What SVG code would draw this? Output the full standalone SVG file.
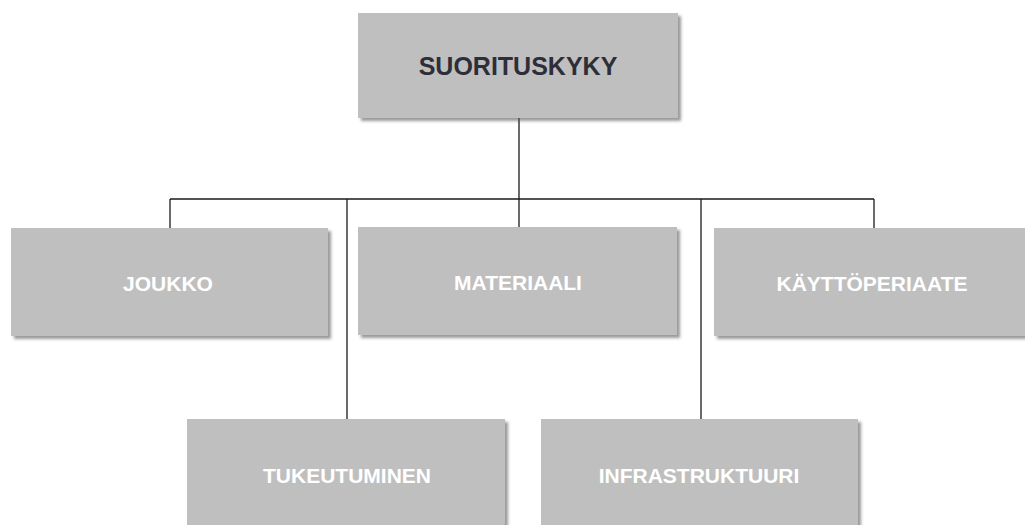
<svg xmlns="http://www.w3.org/2000/svg" width="1025" height="525" viewBox="0 0 1025 525">
<style>
.box{fill:#bfbfbf;filter:url(#sh)}
.lbl{font-family:"Liberation Sans",Arial,sans-serif;font-weight:bold;font-size:21px;fill:#ffffff;text-anchor:middle}
.top{font-size:25px;fill:#2e2e3a}
.conn{stroke:#1a1a1a;stroke-width:1.3;fill:none}
</style>
<defs>
<filter id="sh" x="-5%" y="-5%" width="115%" height="120%">
<feDropShadow dx="3" dy="3" stdDeviation="1.5" flood-color="#555" flood-opacity="0.6"/>
</filter>
</defs>
<rect width="1025" height="525" fill="#ffffff"/>
<g id="connectors">
<path class="conn" d="M519 118 V227"/>
<path class="conn" d="M170 199 H874"/>
<path class="conn" d="M170 199 V228"/>
<path class="conn" d="M874 199 V228"/>
<path class="conn" d="M347 199 V419"/>
<path class="conn" d="M701 199 V419"/>
</g>
<g id="suorituskyky">
<rect class="box" x="358" y="13" width="320" height="105"/>
<text class="lbl top" x="518" y="75">SUORITUSKYKY</text>
</g>
<g id="joukko">
<rect class="box" x="11" y="228" width="317" height="108"/>
<text class="lbl" x="168" y="291">JOUKKO</text>
</g>
<g id="materiaali">
<rect class="box" x="358" y="227" width="319" height="108"/>
<text class="lbl" x="518" y="290">MATERIAALI</text>
</g>
<g id="kayttoperiaate">
<rect class="box" x="714" y="228" width="317" height="108"/>
<text class="lbl" x="872" y="291">KÄYTTÖPERIAATE</text>
</g>
<g id="tukeutuminen">
<rect class="box" x="187" y="419" width="318" height="108"/>
<text class="lbl" x="347" y="483">TUKEUTUMINEN</text>
</g>
<g id="infrastruktuuri">
<rect class="box" x="541" y="419" width="317" height="108"/>
<text class="lbl" x="699" y="483">INFRASTRUKTUURI</text>
</g>
</svg>
